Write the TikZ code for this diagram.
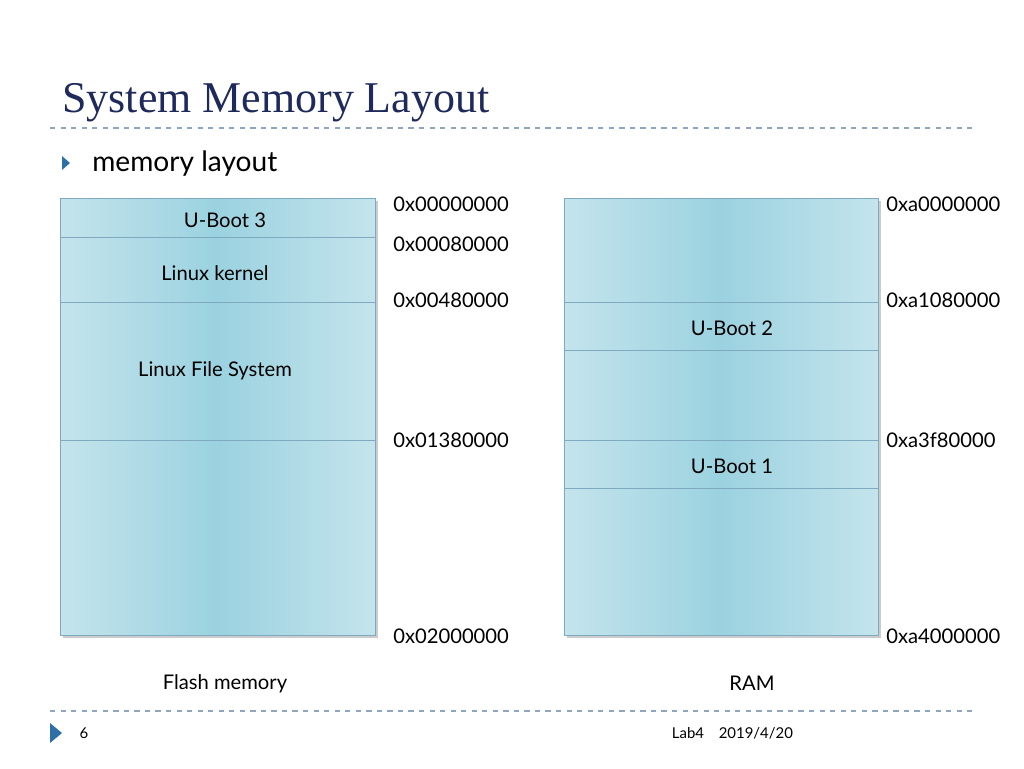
\documentclass[tikz,border=0pt]{standalone}
\usepackage{fontspec}
\setmainfont{Lato}
\newfontfamily\titlefont{Liberation Serif}
\usetikzlibrary{positioning}
\definecolor{navy}{HTML}{1F2A5C}
\definecolor{rule}{HTML}{8FA6BF}
\definecolor{boxlite}{HTML}{C4E4EC}
\definecolor{boxmid}{HTML}{9BD2E0}
\definecolor{boxedge}{HTML}{7FA9BF}
\definecolor{tri}{HTML}{2E6FA8}
\tikzset{
  mem/.style={draw=boxedge,left color=boxlite,right color=boxlite,middle color=boxmid},
  sep/.style={draw=boxedge},
  lbl/.style={font=\fontsize{11.5}{13}\selectfont,inner sep=0},
  addr/.style={lbl,anchor=west},
  foot/.style={font=\fontsize{8.5}{10}\selectfont,inner sep=0}
}
\begin{document}
\begin{tikzpicture}[x=0.02cm,y=-0.02cm]
  \useasboundingbox (0,0) rectangle (1024,768);

  % Title
  \node[anchor=base west,inner sep=0,text=navy,font=\titlefont\fontsize{25}{28}\selectfont] (title) at (62,112) {System Memory Layout};
  \draw[rule,dashed,thick] (50,128) -- (972,128);
  \fill[tri] (62,156) -- (70,163) -- (62,170) -- cycle;
  \node[anchor=west,inner sep=0,font=\fontsize{16}{18}\selectfont] (bullet) at (92,164) {memory layout};

  % Flash memory
  \fill[gray!40] (63,201) rectangle (378,638);
  \draw[mem] (60,198) rectangle (375,635);
  \foreach \y in {237,302,440}{\draw[sep] (60,\y) -- (375,\y);}
  \node[lbl] (ub3) at (225,220) {U-Boot 3};
  \node[lbl] (kern) at (215,273) {Linux kernel};
  \node[lbl] (fs) at (215,371) {Linux File System};
  \foreach \y/\t in {204/0x00000000,244/0x00080000,300/0x00480000,440/0x01380000,636/0x02000000}{%
    \node[addr] (fa\y) at (393,\y) {\t};}
  \node[lbl] (flash) at (225,684) {Flash memory};

  % RAM
  \fill[gray!40] (567,201) rectangle (881,638);
  \draw[mem] (564,198) rectangle (878,635);
  \foreach \y in {302,350,440,488}{\draw[sep] (564,\y) -- (878,\y);}
  \node[lbl] (ub2) at (732,328) {U-Boot 2};
  \node[lbl] (ub1) at (732,466) {U-Boot 1};
  \foreach \y/\t in {204/0xa0000000,300/0xa1080000,440/0xa3f80000,636/0xa4000000}{%
    \node[addr] (ra\y) at (886,\y) {\t};}
  \node[lbl] (ram) at (752,683) {RAM};

  % Footer
  \draw[rule,dashed,thick] (50,711) -- (972,711);
  \fill[tri] (50,723) -- (62,733) -- (50,743) -- cycle;
  \node[foot] (page) at (84,733) {6};
  \node[foot] (lab) at (688,733) {Lab4};
  \node[foot,right=8pt of lab] (date) {2019/4/20};
\end{tikzpicture}
\end{document}
